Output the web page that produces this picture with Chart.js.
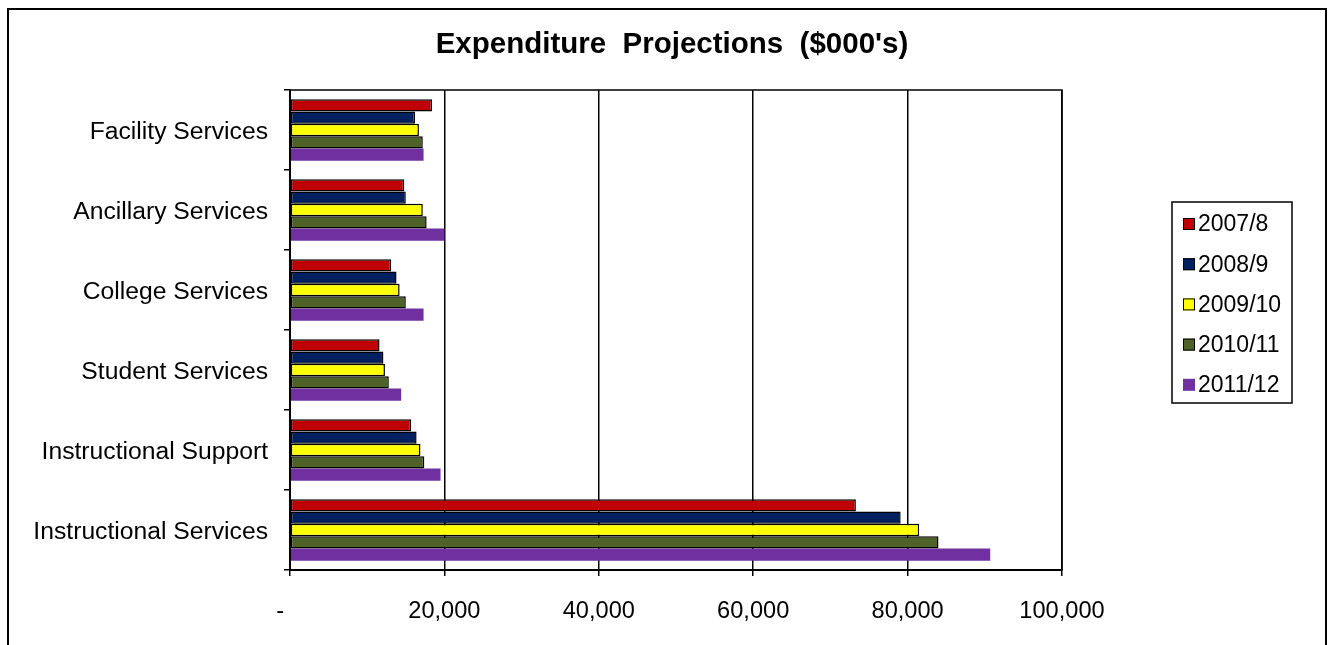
<!DOCTYPE html>
<html>
<head>
<meta charset="utf-8">
<title>Expenditure Projections</title>
<script src="https://cdn.jsdelivr.net/npm/chart.js@4.4.1/dist/chart.umd.min.js"></script>
<style>
  html, body { margin: 0; padding: 0; background: #fff; }
  #wrap { width: 1330px; height: 645px; }
</style>
</head>
<body>
<div id="wrap"><canvas id="chart" width="1330" height="645"></canvas></div>
<script>
// spending by area, $000's
const categories = ['Facility Services', 'Ancillary Services', 'College Services', 'Student Services', 'Instructional Support', 'Instructional Services'];
const years = ['2007/8', '2008/9', '2009/10', '2010/11', '2011/12'];
const fy2007 = [18400, 14800, 13100, 11600, 15700, 73300];
const fy2008 = [16200, 15000, 13800, 12100, 16400, 79100];
const fy2009 = [16700, 17200, 14200, 12300, 16900, 81500];
const fy2010 = [17200, 17700, 15000, 12800, 17400, 84000];
const fy2011 = [17300, 20000, 17300, 14400, 19500, 90700];
const xTicks = [0, 20000, 40000, 60000, 80000, 100000];

const colors = ['#C00000', '#002060', '#FFFF00', '#4F6228', '#7030A0'];
const series = [fy2007, fy2008, fy2009, fy2010, fy2011];
const FONT = 'Liberation Sans';

// plot frame, outer border and the boxed legend
const frame = {
  id: 'frame',
  beforeDraw(chart) {
    const ctx = chart.ctx;
    ctx.save();
    ctx.fillStyle = '#fff';
    ctx.fillRect(0, 0, chart.width, chart.height);
    ctx.restore();
  },
  afterDraw(chart) {
    const { ctx, chartArea: a } = chart;
    ctx.save();
    ctx.strokeStyle = '#000';
    ctx.lineWidth = 1.5;
    ctx.strokeRect(a.left, a.top, a.right - a.left, a.bottom - a.top);

    ctx.lineWidth = 2;
    ctx.strokeRect(8, 9, 1318, 700);

    ctx.lineWidth = 1.5;
    ctx.strokeRect(1172, 202, 120, 201);
    ctx.font = '23px "' + FONT + '"';
    ctx.textBaseline = 'middle';
    chart.data.datasets.forEach((ds, i) => {
      const y = 224 + i * 40.2;
      ctx.fillStyle = ds.backgroundColor;
      ctx.fillRect(1183, y - 6, 12, 12);
      if (ds.borderWidth > 0) {
        ctx.lineWidth = 1;
        ctx.strokeRect(1183.5, y - 5.5, 11, 11);
      }
      ctx.fillStyle = '#000';
      ctx.fillText(ds.label, 1198, y + 1);
    });
    ctx.restore();
  }
};

new Chart(document.getElementById('chart'), {
  type: 'bar',
  data: {
    labels: categories,
    datasets: years.map((y, i) => ({
      label: y,
      data: series[i],
      backgroundColor: colors[i],
      borderColor: '#000',
      borderWidth: i === 4 ? 0 : 1.5,
      borderSkipped: false,
      categoryPercentage: 0.77,
      barPercentage: 1.0
    }))
  },
  options: {
    indexAxis: 'y',
    responsive: false,
    animation: false,
    devicePixelRatio: 1,
    layout: { padding: { left: 14, right: 0, top: 0, bottom: 0 } },
    plugins: {
      legend: { display: false },
      tooltip: { enabled: false },
      title: {
        display: true,
        text: "Expenditure  Projections  ($000's)",
        color: '#000',
        font: { family: FONT, size: 29.5, weight: 'bold' },
        padding: { top: 27, bottom: 27.6 }
      }
    },
    scales: {
      x: {
        min: 0,
        max: 100000,
        afterBuildTicks: s => { s.ticks = xTicks.map(v => ({ value: v })); },
        afterFit: s => { s.height = 75; },
        ticks: {
          color: '#000',
          padding: 21,
          font: { family: FONT, size: 23.6 },
          callback: v => v === 0 ? '-   ' : v.toLocaleString('en-US')
        },
        grid: { color: '#000', lineWidth: 1.5, tickLength: 6 },
        border: { color: '#000', width: 2 }
      },
      y: {
        afterFit: s => { s.width = 276; },
        ticks: {
          color: '#000',
          padding: 16,
          labelOffset: 2,
          font: { family: FONT, size: 24.7 }
        },
        grid: { drawOnChartArea: false, color: '#000', lineWidth: 1.5, tickLength: 6 },
        border: { color: '#000', width: 2 }
      },
      // empty band on the right that holds the legend
      gap: {
        type: 'category',
        position: 'right',
        afterFit: s => { s.width = 268; },
        ticks: { display: false },
        grid: { display: false },
        border: { display: false }
      }
    }
  },
  plugins: [frame]
});
</script>
</body>
</html>
